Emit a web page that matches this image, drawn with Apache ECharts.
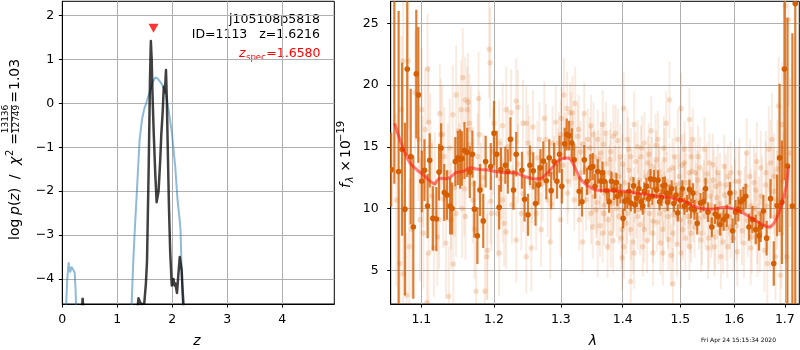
<!DOCTYPE html>
<html><head><meta charset="utf-8">
<script src="https://cdn.jsdelivr.net/npm/echarts@6/dist/echarts.min.js"></script>
<style>html,body{margin:0;padding:0;background:#fff}#c{width:800px;height:350px}</style>
</head><body><div id="c"></div>
<script>
// ---------- left panel: p(z) ----------
const zTicks = [0, 1, 2, 3, 4];
const logpTicks = [-4, -3, -2, -1, 0, 1, 2];
const zBlueA = [0.065, 0.09, 0.115, 0.13, 0.145, 0.165, 0.2, 0.225, 0.24, 0.255];
const logpBlueA = [-4.75, -4.0, -3.62, -3.8, -3.85, -3.72, -3.68, -3.85, -4.2, -4.75];
const zBlueB = [1.255, 1.29, 1.315, 1.357, 1.405, 1.448, 1.49, 1.526, 1.56, 1.6, 1.65, 1.69, 1.73, 1.78, 1.82, 1.853, 1.89, 1.932, 1.993, 2.053, 2.095, 2.131, 2.15, 2.165, 2.18, 2.195];
const logpBlueB = [-4.75, -3.6, -2.96, -1.97, -0.83, -0.38, -0.12, 0.0, 0.15, 0.3, 0.5, 0.59, 0.57, 0.49, 0.42, 0.34, 0.15, -0.15, -0.68, -1.44, -2.2, -2.62, -2.9, -3.6, -4.2, -4.75];
const zBlackA = [0.355, 0.37, 0.385];
const logpBlackA = [-4.75, -4.43, -4.75];
const zBlackB = [1.36, 1.385, 1.41, 1.44, 1.47, 1.49, 1.52, 1.54, 1.57, 1.595, 1.61, 1.625, 1.64, 1.66, 1.69, 1.715, 1.73, 1.75, 1.78, 1.80, 1.825, 1.845, 1.865, 1.885, 1.9, 1.92, 1.94, 1.962, 1.99, 2.005, 2.022, 2.04, 2.055, 2.085, 2.11, 2.135, 2.155, 2.17, 2.185, 2.21];
const logpBlackB = [-4.75, -4.44, -4.52, -4.58, -4.58, -4.56, -4.1, -3.6, -1.5, 0.6, 1.42, 1.0, 0.2, -0.6, -1.6, -2.25, -2.25, -2.0, -1.3, -0.7, -0.2, 0.38, 0.25, 0.76, 0.1, -1.2, -2.4, -3.4, -4.15, -4.1, -4.0, -4.15, -4.1, -4.32, -3.9, -3.5, -3.5, -3.8, -4.2, -4.75];
const zSpec = 1.658;
const zSpecMarkerY = 1.71;

// ---------- right panel: spectrum ----------
const lamTicks = [1.1, 1.2, 1.3, 1.4, 1.5, 1.6, 1.7];
const fluxTicks = [5, 10, 15, 20, 25];
const boldLam = [1.061,1.065,1.0705,1.075,1.0786,1.0816,1.0861,1.0895,1.0934,1.0961,1.1006,1.1042,1.1083,1.1111,1.1153,1.12,1.1236,1.1264,1.1306,1.1343,1.1385,1.1413,1.1458,1.1492,1.1524,1.1547,1.1583,1.1621,1.1658,1.1694,1.1722,1.1764,1.1801,1.1847,1.1881,1.1954,1.2,1.204,1.2075,1.21,1.2164,1.22,1.2239,1.2284,1.2324,1.2409,1.2448,1.2499,1.2528,1.2578,1.2612,1.2657,1.2687,1.2731,1.2776,1.2821,1.2851,1.2896,1.294,1.2981,1.3016,1.306,1.3092,1.3129,1.3173,1.321,1.329,1.3334,1.3371,1.3415,1.3468,1.3506,1.3544,1.3587,1.364,1.3665,1.3694,1.3737,1.3774,1.3813,1.3855,1.3895,1.391,1.3963,1.4007,1.4035,1.4077,1.4105,1.4135,1.4182,1.4205,1.424,1.4275,1.431,1.434,1.4368,1.4405,1.4439,1.4474,1.4505,1.4533,1.4579,1.4605,1.4632,1.4665,1.4691,1.4725,1.4749,1.4775,1.4807,1.4845,1.4884,1.4925,1.4954,1.5,1.5035,1.5074,1.512,1.5165,1.5195,1.5228,1.5257,1.5307,1.5368,1.5423,1.546,1.5504,1.5577,1.5638,1.5688,1.5735,1.5798,1.5858,1.5919,1.5969,1.6025,1.6078,1.6124,1.6176,1.6222,1.6286,1.6353,1.6418,1.6482,1.6516,1.6569,1.6633,1.6712,1.6776,1.6843,1.6894,1.6941,1.6992,1.7053,1.7154,1.7214];
const boldFlux = [13.15,27,13,14.8,9.95,21.3,14.2,8.5,20.9,19.2,12.2,13.1,10.2,13.9,9.2,9.15,12.95,14.9,11.3,11.1,10.2,10.0,13.8,14.1,14.0,14.05,14.7,14.55,12.95,14.4,9.95,7.8,11.5,9.0,13.8,13.4,16.1,14.4,10.1,13.15,13.5,13.0,15.6,11.5,14.4,13.1,10.75,9.5,13.5,13.05,10.4,11.9,13.3,13.85,12.25,14.1,11.45,13.8,12.2,14.4,11.8,15.25,16.0,15.9,15.3,13.95,11.4,10.55,13.95,12.2,13.3,13.4,11.8,13.0,12.2,12.9,12.2,11.45,10.55,12.2,11.5,12.1,11.0,11.2,9.2,10.6,10.7,11.4,10.45,11.85,10.3,10.85,11.6,10.55,10.2,11.4,11.8,10.8,12.4,11.0,12.35,11.5,12.3,10.55,10.9,11.85,11.9,11.25,10.5,11.25,11.6,10.4,11.1,9.65,10.7,11.6,10.2,10.4,11.55,10.0,11.25,9.9,8.8,10.45,10.55,11.6,9.7,8.5,9.55,9.35,8.7,9.1,9.4,11.25,8.2,9.7,9.95,10.55,10.75,11.0,8.5,9.1,8.3,7.8,8.5,9.8,7.6,10.8,5.55,10.25,14.1,10.5,21.3,13.45,10.2,26.6];
const boldErr = [3,15,13,7,7,7,5.5,5.8,5.2,5.5,2.5,2.5,2.6,2.2,2.6,2.6,2.3,2.0,2.3,2.0,2.3,2.1,2.0,2.2,2.4,2.2,2.3,2.0,2.1,1.9,2.3,2.3,2.1,2.2,2.1,1.9,2.6,1.9,1.8,1.8,1.5,1.8,1.8,1.6,1.8,1.5,1.8,1.7,1.6,1.5,1.8,1.6,1.5,1.6,1.5,1.5,1.5,1.5,1.4,1.5,1.4,1.3,1.3,1.2,1.2,1.3,1.2,1.2,1.2,1.1,1.1,1.1,1.0,1.0,0.9,0.9,0.9,0.8,0.9,0.8,0.8,0.8,0.8,0.8,0.8,0.8,0.7,0.7,0.7,0.7,0.7,0.7,0.7,0.7,0.7,0.7,0.7,0.7,0.8,0.7,0.8,0.7,0.8,0.7,0.7,0.7,0.7,0.7,0.7,0.7,0.7,0.7,0.7,0.7,0.7,0.7,0.7,0.7,0.8,0.8,0.8,0.8,0.9,0.8,0.8,0.9,0.8,0.8,0.8,0.8,0.9,0.9,0.9,0.9,1.0,1.0,1.0,1.0,1.0,1.0,1.1,1.1,1.2,1.2,1.2,1.3,1.4,1.6,1.8,2.5,6,5,9,12,14,25];

const faintLam = [1.0763,1.0829,1.1083,1.1006,1.1097,1.1051,1.1246,1.126,1.0917,1.0983,1.0842,1.072,1.0763,1.0808,1.1075,1.1367,1.1431,1.1329,1.1214,1.1236,1.1144,1.1468,1.1561,1.1593,1.1631,1.1538,1.1621,1.1422,1.1653,1.1676,1.1792,1.1931,1.1944,1.1908,1.1899,1.1871,1.1746,1.1722,1.1597,1.1551,1.1468,1.1399,1.1514,1.1292,1.1353,1.1769,1.1954,1.1964,1.1097,1.1167,1.1028,1.1399,1.1306,1.0961,1.0676,1.0742,1.0874,1.1815,1.17,
1.2175,1.2324,1.2349,1.2424,1.2473,1.2573,1.2746,1.2921,1.3048,1.3011,1.3145,1.3184,1.3371,1.3479,1.2249,1.2125,1.2075,1.2672,1.2872,1.297,1.3265,1.3426,1.2051,1.2149,1.2175,1.2075,1.2324,1.2473,1.2548,1.2697,1.2836,1.2996,1.3345,1.329,1.3479,1.3398,1.321,1.3103,1.2,1.2125,1.2399,1.2622,1.2797,1.2275,1.2522,1.2896,1.3156,1.3318,1.3479,1.3098,1.3162,1.3226,
1.3587,1.3668,1.3721,1.3845,1.3882,1.4018,1.4077,1.4193,1.4253,1.4368,1.4486,1.4604,1.4749,1.4807,1.4954,1.5013,1.5165,1.5074,1.5228,1.3532,1.364,1.3802,1.3963,1.4135,1.431,1.4428,1.4574,1.4719,1.4895,1.5074,1.5196,1.356,1.3694,1.3829,1.3935,1.4077,1.4253,1.4456,1.4632,1.4779,1.4954,1.5136,1.3506,1.3668,1.3802,1.399,1.4135,1.4368,1.4516,1.4691,1.4867,1.5044,1.5196,1.3587,1.3748,1.4018,1.4193,1.434,1.4516,1.4691,1.4837,1.5013,1.4135,1.4867,1.399,1.5165,1.3613,1.3774,1.3935,1.4105,1.4281,1.4456,1.4632,1.4807,1.4982,1.5165,1.3532,1.3694,1.3855,1.4018,1.4193,1.4368,1.4544,1.4719,1.4895,1.5074,
1.532,1.5441,1.5533,1.5596,1.5688,1.5809,1.5932,1.609,1.6241,1.6384,1.6516,1.6678,1.6712,1.6776,1.6874,1.7006,1.7073,1.7107,1.5257,1.538,1.5504,1.5625,1.5748,1.5871,1.6059,1.6188,1.6319,1.6451,1.6647,1.681,1.6908,1.704,1.5289,1.5412,1.5564,1.5717,1.5901,1.6124,1.6319,1.6482,1.6647,1.6843,1.532,1.5472,1.5656,1.584,1.6025,1.6222,1.6418,1.6614,1.6776,1.6972,1.5932,1.6451,1.5564,
1.3035,1.3072,1.3115,1.319,1.3245,1.328,1.331,1.3355,1.339,1.344,1.346,1.3495,1.352,1.355,1.3575,1.36,1.3625,1.365,1.368,1.3705,1.373,1.376,1.379,1.3815,1.384,1.387,1.39,1.392,1.395,1.3975,1.4,1.404,1.406,1.4095,1.412,1.415,1.417,1.4215,1.423,1.4265,1.4295,1.4325,1.4355,1.439,1.4415,1.4445,1.446,1.4495,1.452,1.455,1.4565,1.459,1.462,1.465,1.4675,1.4705,1.474,1.476,1.479,1.482,1.486,1.4875,1.4905,1.494,1.497,1.5,1.503,1.5055,1.509,1.5105,1.515,1.518,1.521,1.524,1.5275,1.53,1.534,1.536,1.5395,1.543,1.5455,1.549,1.552,1.5545,1.558,1.561,1.564,1.567,1.57,1.573,1.576,1.579,1.582,1.585,1.588,1.5915,1.595,1.5985,1.601,1.6045,1.61,1.615,1.62,1.626,1.63,1.634,1.64,1.644,1.65,1.654,1.659,1.662,1.67,1.674,1.68,1.685,1.693,1.695,1.702,
1.102,1.112,1.118,1.128,1.138,1.145,1.15,1.158,1.164,1.171,1.178,1.185,1.199,1.21,1.22,1.226,1.235,1.243,1.25,1.256,1.264,1.272,1.277,1.285,1.295,1.3];
const faintFlux = [21.95,21.95,21.3,18.0,17.0,16.4,17.7,16.0,19.4,9.1,6.9,5.55,4.7,3.0,2.4,2.9,5.5,7.2,7.7,9.1,11.0,19.2,20.6,18.8,18.6,18.0,18.0,17.6,16.9,16.4,16.0,22.9,21.8,6.6,6.1,3.3,3.3,8.3,9.35,10.0,9.6,9.1,13.4,10.8,12.9,14.2,10.6,9.6,6.4,6.8,8.0,10.2,14.2,15.6,10.7,18.0,8.3,11.8,10.7,
18.0,18.7,18.2,16.9,16.9,16.6,17.3,17.0,19.2,17.3,17.75,17.75,17.7,16.7,17.75,16.7,15.3,15.6,15.3,15.3,15.85,15.6,9.6,8.8,8.1,6.4,7.45,6.1,6.8,8.3,7.3,9.1,7.3,9.1,9.6,10.7,10.7,11.25,16.9,10.7,9.6,9.6,10.7,12.9,14.5,12.9,14.2,12.9,14.2,18.1,16.9,18.5,
15.6,16.8,16.1,15.85,16.1,18.1,15.6,16.8,15.0,15.3,16.3,15.6,16.9,18.8,15.6,18.1,17.2,14.8,15.6,14.2,14.5,14.6,14.2,14.2,14.2,13.7,13.95,13.95,14.2,13.7,14.2,9.9,9.6,10.4,9.35,9.6,9.35,9.6,9.6,9.35,9.35,9.35,8.5,8.0,8.0,8.3,8.3,8.3,8.0,8.3,8.0,8.3,8.0,7.2,6.9,6.9,6.4,6.9,6.4,6.4,6.2,6.4,4.1,3.9,6.0,6.9,12.3,12.9,12.6,13.1,12.3,12.9,12.6,13.1,12.6,12.9,11.0,11.25,10.7,11.0,11.1,10.7,11.0,10.7,11.0,11.25,
14.2,14.8,13.7,13.55,12.9,13.4,12.9,12.2,14.5,12.1,13.3,14.8,13.7,12.6,18.3,26.4,25.3,14.5,8.5,7.45,6.8,6.9,6.1,6.9,6.5,7.2,6.8,7.45,5.55,6.1,4.6,6.1,11.25,10.7,10.2,10.4,10.2,9.9,10.2,9.6,10.2,10.7,12.3,12.2,11.8,11.9,12.2,11.8,11.5,11.9,11.4,12.2,8.5,8.5,8.5,
13.5,15.0,12.2,14.9,12.5,16.4,14.6,15.2,13.2,11.4,14.9,12.0,16.0,13.4,10.5,14.0,8.6,11.8,15.2,10.3,13.6,9.1,14.0,11.6,7.4,12.7,10.0,15.5,11.8,7.6,13.6,12.1,8.8,14.8,10.1,12.4,7.3,13.8,9.9,11.9,8.7,14.9,9.8,12.6,7.4,14.4,10.2,13.4,9.0,11.6,15.1,8.9,13.0,7.2,11.4,14.9,9.9,12.2,7.5,10.5,13.3,9.5,11.9,7.1,12.0,9.1,13.5,10.1,7.6,12.1,10.6,8.9,13.0,9.7,12.9,10.6,9.2,13.3,8.0,11.5,9.4,12.8,7.6,11.0,9.0,12.3,7.7,10.9,8.1,12.0,9.5,7.3,11.1,8.4,12.6,9.3,10.9,7.6,11.3,8.6,12.9,8.2,10.5,9.0,12.6,7.7,10.0,13.8,8.0,11.0,6.6,12.9,8.5,15.6,9.3,13.2,8.0,16.8,11.0,
13.0,15.1,12.0,16.0,14.9,11.7,16.3,11.6,15.2,12.0,18.9,12.5,14.6,12.4,15.0,10.3,13.6,11.2,15.3,11.8,14.1,12.0,15.6,10.4,13.7,16.0];
const faintErr = [5,5.5,4.5,5,4.5,5,4,4.5,5,5,5.5,6,6,5,4,4,4,4.5,4,4,4.5,4,4,3.5,4,4,3.5,4,4,3.5,3.5,4,4.5,4,3.5,3.5,4,4,3.5,4,3.5,4,3.5,4,4,3.5,3.5,3,4.5,4,4.5,3.5,4,5,7,6,5.5,3.5,3.5,
3.5,3.5,3,3.5,3,3,3,3,3,2.5,2.5,3,2.5,2.5,3.5,3.5,3.5,3,3,2.5,2.5,2.5,3.5,3.5,3,3.5,3.5,3,3.5,3,3,3,2.5,2.5,2.5,2.5,2.5,2.5,3.5,3.5,3,3,3,3,3,3,2.5,2.5,2.5,3,2.5,3,
2.4,2.8,2.5,2.6,2.3,3.0,2.4,2.7,2.2,2.5,2.8,2.3,2.6,3.1,2.4,2.9,2.6,2.3,2.5,2.2,2.5,2.4,2.6,2.3,2.5,2.2,2.4,2.6,2.3,2.5,2.4,2.3,2.6,2.4,2.2,2.5,2.7,2.3,2.4,2.6,2.3,2.5,2.6,2.4,2.8,2.3,2.5,2.7,2.4,2.6,2.3,2.5,2.4,2.8,2.5,2.6,2.9,2.4,2.7,2.6,2.5,2.8,3.0,2.9,2.6,2.7,2.3,2.2,2.5,2.4,2.6,2.3,2.5,2.2,2.4,2.6,2.4,2.3,2.5,2.6,2.2,2.4,2.5,2.3,2.4,2.6,
2.5,2.6,2.4,2.5,2.3,2.6,2.5,2.8,2.8,3,3,3.5,3.5,3.5,4,6,7,6,2.5,2.6,2.5,2.4,2.6,2.5,2.8,2.8,3,3,3.5,3.5,4,5,2.4,2.5,2.3,2.5,2.4,2.8,3,3,3.5,4,2.4,2.5,2.4,2.5,2.8,2.8,3,3.5,3.5,4,2.5,3,2.5,
2.6,2.8,2.5,2.7,2.6,2.8,2.5,2.4,2.6,2.3,2.5,2.4,2.6,2.4,2.5,2.3,2.5,2.4,2.6,2.4,2.3,2.5,2.4,2.3,2.6,2.4,2.3,2.6,2.3,2.5,2.4,2.3,2.5,2.6,2.3,2.4,2.6,2.4,2.3,2.3,2.5,2.6,2.4,2.3,2.6,2.5,2.3,2.4,2.5,2.3,2.6,2.4,2.3,2.6,2.4,2.6,2.3,2.4,2.5,2.3,2.4,2.3,2.4,2.6,2.4,2.4,2.5,2.3,2.6,2.4,2.3,2.5,2.4,2.4,2.5,2.4,2.5,2.5,2.6,2.4,2.5,2.5,2.6,2.4,2.5,2.5,2.6,2.5,2.6,2.5,2.5,2.6,2.5,2.6,2.5,2.6,2.6,2.7,2.7,2.8,2.8,2.8,2.9,2.9,3,3,3,3.2,3.2,3.3,3.4,3.4,3.6,3.8,3.8,4,4.5,5,5.5,
4.5,4.2,4.2,4,4,4,3.8,3.8,3.8,3.6,3.8,3.6,3.5,3.3,3.3,3.2,3.2,3.1,3.1,3,3,3,2.9,2.9,2.8,2.8];

const modelLam = [1.0654,1.072,1.0786,1.0851,1.0939,1.1028,1.1121,1.1176,1.1214,1.126,1.1329,1.1399,1.1468,1.1561,1.1676,1.1746,1.1815,1.1931,1.2025,1.2149,1.2299,1.2448,1.2597,1.2697,1.2797,1.2896,1.2996,1.3092,1.3156,1.3237,1.3318,1.3426,1.356,1.3748,1.4018,1.431,1.4604,1.4895,1.5074,1.5197,1.538,1.5564,1.5809,1.5993,1.6188,1.6384,1.6549,1.6678,1.6776,1.6874,1.696,1.7026,1.7073];
const modelFlux = [16.9,15.6,14.5,13.7,13.15,12.7,12.2,12.0,12.3,12.45,12.4,12.6,12.9,13.0,13.3,13.2,13.15,13.1,13.0,12.9,12.9,12.6,12.4,12.45,12.9,13.5,14.0,14.1,13.95,13.15,12.35,11.85,11.5,11.45,11.4,11.2,11.0,10.8,10.6,10.3,10.0,9.95,10.1,9.95,9.6,9.1,8.7,8.5,8.8,9.6,10.7,11.8,13.4];

const lamMin = 1.0604, lamMax = 1.7297;
const FONT = 'DejaVu Sans';
const lg = Math.log10;
const fmtNum = v => (v < 0 ? '\u2212' + Math.abs(v) : String(v));
const zip2 = (a, b) => a.map((v, i) => [v, b[i]]);

function errItem(dotColor, barColor, barW, r) {
  return function (params, api) {
    const x = api.value(0), y = api.value(1), e = api.value(2);
    const p1 = api.coord([x, y - e]), p2 = api.coord([x, y + e]), c = api.coord([x, y]);
    return { type: 'group', children: [
      { type: 'line', shape: { x1: p1[0], y1: p1[1], x2: p2[0], y2: p2[1] }, style: { stroke: barColor, lineWidth: barW } },
      { type: 'circle', shape: { cx: c[0], cy: c[1], r: r }, style: { fill: dotColor } }
    ]};
  };
}

const axisCommon = {
  axisLine: { show: true, onZero: false, lineStyle: { color: '#000', width: 1 } },
  axisTick: { show: true, length: 3.5, inside: false, lineStyle: { color: '#000', width: 1 } },
  splitLine: { show: true, lineStyle: { color: '#b0b0b0', width: 1 } }
};
const labelCommon = { color: '#000', fontSize: 12.5, fontFamily: FONT };

const txt = (x, y, text, opt) => Object.assign({ type: 'text', x: x, y: y, silent: true, style: Object.assign({
  text: text, fill: '#000', fontSize: 12.5, fontFamily: FONT, align: 'left', textAlign: 'left', verticalAlign: 'middle', textVerticalAlign: 'middle' }, opt || {}) });
const al = (a) => ({ align: a, textAlign: a });

const option = {
  animation: false,
  backgroundColor: '#fff',
  grid: [
    { left: 62.3, top: 1.3, width: 272, height: 302.7, show: true, borderColor: '#000', borderWidth: 1, backgroundColor: '#fff', containLabel: false, outerBoundsMode: 'none' },
    { left: 390.7, top: 1.3, width: 408.6, height: 302.7, show: true, borderColor: '#000', borderWidth: 1, backgroundColor: '#fff', containLabel: false, outerBoundsMode: 'none' }
  ],
  xAxis: [
    Object.assign({ type: 'value', gridIndex: 0, min: 0, max: 4.945, interval: 1,
      axisLabel: Object.assign({ margin: 9, customValues: zTicks, formatter: fmtNum }, labelCommon) }, axisCommon,
      { axisTick: Object.assign({}, axisCommon.axisTick, { customValues: zTicks }) }),
    Object.assign({ type: 'value', gridIndex: 1, min: lg(lamMin), max: lg(lamMax),
      axisLabel: Object.assign({ margin: 9, customValues: lamTicks.map(lg), formatter: v => Math.pow(10, v).toFixed(1) }, labelCommon) }, axisCommon,
      { axisTick: Object.assign({}, axisCommon.axisTick, { customValues: lamTicks.map(lg) }) })
  ],
  yAxis: [
    Object.assign({ type: 'value', gridIndex: 0, min: -4.57, max: 2.325,
      axisLabel: Object.assign({ margin: 8, customValues: logpTicks, formatter: fmtNum }, labelCommon) }, axisCommon,
      { axisTick: Object.assign({}, axisCommon.axisTick, { customValues: logpTicks }) }),
    Object.assign({ type: 'value', gridIndex: 1, min: 2.27, max: 26.78,
      axisLabel: Object.assign({ margin: 12, customValues: fluxTicks, formatter: fmtNum }, labelCommon) }, axisCommon,
      { axisTick: Object.assign({}, axisCommon.axisTick, { customValues: fluxTicks }) })
  ],
  series: [
    { type: 'line', xAxisIndex: 0, yAxisIndex: 0, data: zip2(zBlueA, logpBlueA), showSymbol: false, clip: true, lineStyle: { color: 'rgba(31,119,180,0.5)', width: 2 } },
    { type: 'line', xAxisIndex: 0, yAxisIndex: 0, data: zip2(zBlueB, logpBlueB), showSymbol: false, clip: true, lineStyle: { color: 'rgba(31,119,180,0.5)', width: 2 } },
    { type: 'line', xAxisIndex: 0, yAxisIndex: 0, data: zip2(zBlackA, logpBlackA), showSymbol: false, clip: true, lineStyle: { color: 'rgba(0,0,0,0.75)', width: 2.5 } },
    { type: 'line', xAxisIndex: 0, yAxisIndex: 0, data: zip2(zBlackB, logpBlackB), showSymbol: false, clip: true, lineStyle: { color: 'rgba(0,0,0,0.75)', width: 2.5, join: 'round' } },
    { type: 'scatter', xAxisIndex: 0, yAxisIndex: 0, data: [[zSpec, zSpecMarkerY]], symbol: 'triangle', symbolRotate: 180, symbolSize: [10, 9], itemStyle: { color: '#ff0000' } },
    { type: 'custom', xAxisIndex: 1, yAxisIndex: 1, clip: true,
      data: faintLam.map((l, i) => [lg(l), faintFlux[i], faintErr[i]]),
      renderItem: errItem('rgba(213,94,0,0.2)', 'rgba(213,94,0,0.12)', 2, 2.7) },
    { type: 'custom', xAxisIndex: 1, yAxisIndex: 1, clip: true,
      data: boldLam.map((l, i) => [lg(l), boldFlux[i], boldErr[i]]),
      renderItem: errItem('#d55e00', 'rgba(213,94,0,0.8)', 2.2, 2.8) },
    { type: 'line', xAxisIndex: 1, yAxisIndex: 1, data: modelLam.map((l, i) => [lg(l), modelFlux[i]]), showSymbol: false, clip: true, smooth: 0.3,
      lineStyle: { color: 'rgba(255,20,20,0.55)', width: 3 } }
  ],
  graphic: [
    txt(320, 20, 'j105108p5818', al('right')),
    txt(320, 34.5, 'ID=1113   z=1.6216', al('right')),
    txt(239, 53.5, 'z', { fill: '#ff0000', fontStyle: 'italic' }),
    txt(246, 57.5, 'spec', { fill: '#ff0000', fontSize: 8.5 }),
    txt(320.5, 53.5, '=1.6580', Object.assign({ fill: '#ff0000' }, al('right'))),
    txt(197, 341, 'z', Object.assign({ fontSize: 14, fontStyle: 'italic' }, al('center'))),
    txt(593, 341, '\u03bb', Object.assign({ fontSize: 14, fontStyle: 'italic' }, al('center'))),
    txt(701, 340, 'Fri Apr 24 15:15:34 2020', { fontSize: 6 }),
    { type: 'group', x: 15, y: 240, rotation: Math.PI / 2, silent: true, children: [
      txt(0, 0, 'log', { fontSize: 14 }),
      txt(25, 0, '{i|p}{n|(}{i|z}{n|)}', { fontSize: 14, rich: { i: { fontSize: 14, fontFamily: FONT, fontStyle: 'italic' }, n: { fontSize: 14, fontFamily: FONT } } }),
      txt(63, 0, '/', Object.assign({ fontSize: 14 }, al('center'))),
      txt(75, 0, '\u03c7', { fontSize: 14, fontStyle: 'italic' }),
      txt(84, -5, '2', { fontSize: 10 }),
      txt(101, 0, '=', Object.assign({ fontSize: 14 }, al('center'))),
      txt(121, -9, '13136', Object.assign({ fontSize: 9 }, al('center'))),
      { type: 'line', shape: { x1: 107, y1: -3.5, x2: 135, y2: -3.5 }, style: { stroke: '#000', lineWidth: 0.8 } },
      txt(121, 2, '12749', Object.assign({ fontSize: 9 }, al('center'))),
      txt(143, 0, '=', Object.assign({ fontSize: 14 }, al('center'))),
      txt(150, 0, '1.03', { fontSize: 14 })
    ]},
    { type: 'group', x: 346, y: 188, rotation: Math.PI / 2, silent: true, children: [
      txt(0, 0, 'f', { fontSize: 14, fontStyle: 'italic' }),
      txt(5.5, 4, '\u03bb', { fontSize: 10, fontStyle: 'italic' }),
      txt(22, 0, '\u00d7', Object.assign({ fontSize: 14 }, al('center'))),
      txt(30, 0, '10', { fontSize: 14 }),
      txt(46, -5, '\u221219', { fontSize: 10 })
    ]}
  ]
};

const chart = echarts.init(document.getElementById('c'), null, { renderer: 'canvas', width: 800, height: 350 });
chart.setOption(option);
</script>
</body></html>
